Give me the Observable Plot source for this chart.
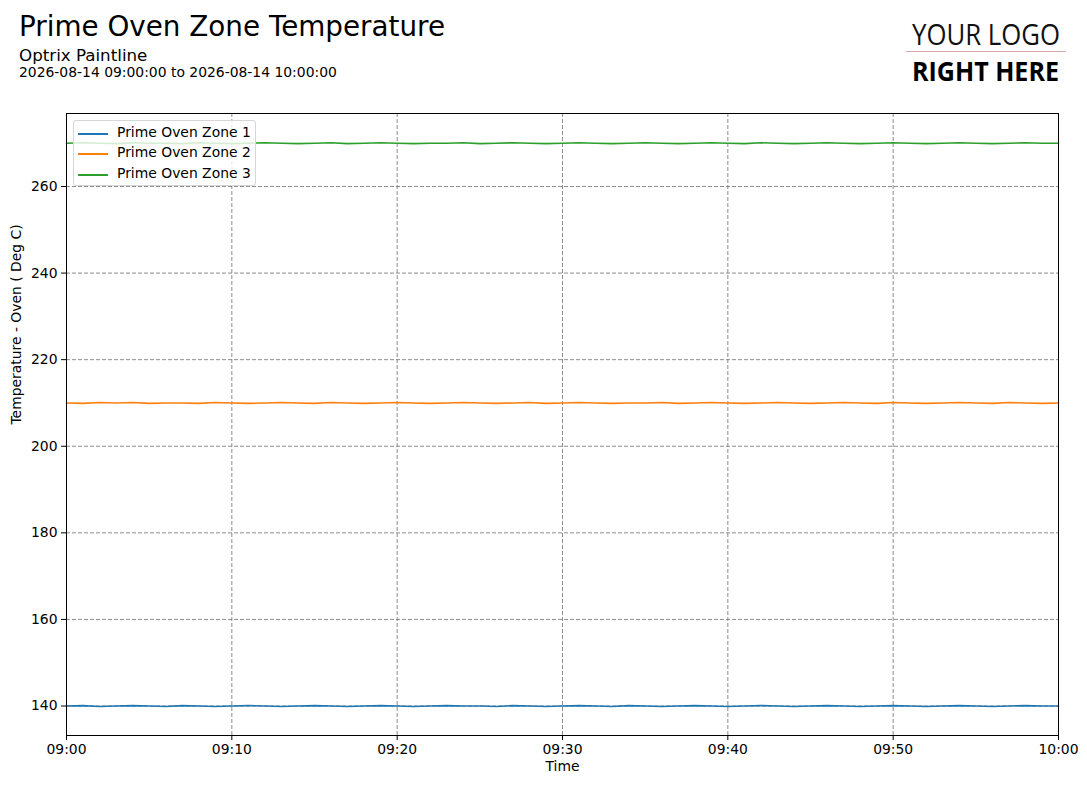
<!DOCTYPE html>
<html><head><meta charset="utf-8">
<script src="https://cdn.jsdelivr.net/npm/d3@7"></script>
<script src="https://cdn.jsdelivr.net/npm/@observablehq/plot@0.6"></script>
<style>
body{margin:0;background:#fff;font-family:"DejaVu Sans",sans-serif;}
#wrap{position:relative;width:1087px;height:788px;overflow:hidden;background:#fff}
.t{position:absolute;left:19px;white-space:nowrap;line-height:1;color:#000}
#chart{position:absolute;left:0;top:0}
#legend{position:absolute;left:73px;top:120px;width:183px;height:66px;border:1px solid #d6d6d6;border-radius:3px;background:rgba(255,255,255,0.8);box-sizing:border-box}
.row{position:absolute;left:0;height:20px;width:100%}
.row svg{position:absolute;left:3px;top:0}
.row span{position:absolute;left:43px;top:2px;font-size:13.9px;line-height:1;white-space:nowrap;color:#000}
#logo{position:absolute;left:880px;top:0}
</style></head><body>
<div id="wrap">
  <div id="chart"></div>
  <div class="t" id="title" style="top:12.5px;font-size:27.8px">Prime Oven Zone Temperature</div>
  <div class="t" id="sub" style="top:47px;font-size:16.7px">Optrix Paintline</div>
  <div class="t" id="range" style="top:65.5px;font-size:13.9px">2026-08-14 09:00:00 to 2026-08-14 10:00:00</div>
  <div id="legend"></div>
  <svg id="logo" width="207" height="100">
    <text x="32" y="45" font-family="Open Sans" font-size="28.5" textLength="148" lengthAdjust="spacingAndGlyphs" fill="#111">YOUR LOGO</text>
    <line x1="25.7" x2="185.7" y1="51.5" y2="51.5" stroke="#d9a6a6" stroke-width="1"/>
    <text x="32" y="80.5" font-family="Open Sans" font-weight="700" font-size="26.5" textLength="147" lengthAdjust="spacingAndGlyphs" fill="#000">RIGHT HERE</text>
  </svg>
</div>
<script>
const seriesNames = ["Prime Oven Zone 1", "Prime Oven Zone 2", "Prime Oven Zone 3"];
const seriesColors = ["#1f77b4", "#ff7f0e", "#2ca02c"];
const startTime = "2026-08-14T09:00:00Z";
const endTime = "2026-08-14T10:00:00Z";
const xTickLabels = ["09:00", "09:10", "09:20", "09:30", "09:40", "09:50", "10:00"];
const yTickValues = [140, 160, 180, 200, 220, 240, 260];
const xLabel = "Time";
const yLabel = "Temperature - Oven ( Deg C)";

// one reading per minute, 09:00 .. 10:00
const zone1 = [
 140.0,140.1,139.9,140.0,140.1,140.0,139.9,140.1,140.0,139.9,
 140.0,140.1,140.0,139.9,140.0,140.1,140.0,139.9,140.0,140.1,
 140.0,139.9,140.0,140.1,140.0,140.0,139.9,140.1,140.0,139.9,
 140.0,140.1,140.0,139.9,140.1,140.0,139.9,140.0,140.1,140.0,
 139.9,140.0,140.1,140.0,139.9,140.0,140.1,140.0,139.9,140.0,
 140.1,140.0,139.9,140.0,140.1,140.0,139.9,140.0,140.1,140.0,140.0];
const zone2 = [
 210.0,209.9,210.1,210.0,210.1,209.9,210.0,210.0,209.9,210.1,
 210.0,209.9,210.0,210.1,210.0,209.9,210.1,210.0,209.9,210.0,
 210.1,210.0,209.9,210.0,210.1,210.0,209.9,210.0,210.1,209.9,
 210.0,210.1,210.0,209.9,210.0,210.0,210.1,209.9,210.0,210.1,
 210.0,209.9,210.0,210.1,210.0,209.9,210.0,210.1,210.0,209.9,
 210.1,210.0,209.9,210.0,210.1,210.0,209.9,210.1,210.0,209.9,210.0];
const zone3 = [
 270.0,270.1,270.0,269.9,270.1,270.0,270.0,269.9,270.1,270.0,
 269.9,270.0,270.1,270.0,269.9,270.0,270.1,269.9,270.0,270.1,
 270.0,269.9,270.0,270.0,270.1,269.9,270.0,270.1,270.0,269.9,
 270.0,270.1,270.0,269.9,270.0,270.1,270.0,269.9,270.0,270.1,
 270.0,269.9,270.1,270.0,269.9,270.0,270.1,270.0,269.9,270.0,
 270.1,270.0,269.9,270.0,270.1,270.0,269.9,270.0,270.1,270.0,270.0];

const t0 = new Date(startTime), t1 = new Date(endTime);
const rows = [];
[zone1, zone2, zone3].forEach((vals, s) => {
  vals.forEach((v, i) => rows.push({series: seriesNames[s], time: d3.utcMinute.offset(t0, i), value: v}));
});
const xTicks = xTickLabels.map(l => new Date(`2026-08-14T${l}:00Z`));
const gridStyle = {stroke: "#808080", strokeOpacity: 1, strokeWidth: 0.9, strokeDasharray: "4,2"};

const chart = Plot.plot({
  width: 1087, height: 788,
  marginLeft: 66, marginRight: 29, marginTop: 113, marginBottom: 53,
  style: {fontFamily: "DejaVu Sans", fontSize: "13.9px", background: "transparent", color: "#000", overflow: "visible"},
  x: {type: "utc", domain: [t0, t1]},
  y: {domain: [133.19, 276.86]},
  color: {domain: seriesNames, range: seriesColors},
  marks: [
    Plot.gridX(xTicks, gridStyle),
    Plot.gridY(yTickValues, gridStyle),
    Plot.line(rows, {x: "time", y: "value", z: "series", stroke: "series", strokeWidth: 1.6}),
    Plot.frame({stroke: "#000", strokeWidth: 1}),
    Plot.axisX(xTicks, {tickFormat: d3.utcFormat("%H:%M"), tickSize: 5, tickPadding: 4, label: null}),
    Plot.axisY(yTickValues, {tickFormat: d => String(d), tickSize: 5, tickPadding: 4, label: null}),
    Plot.text([xLabel], {frameAnchor: "bottom", dy: 35, text: d => d}),
    Plot.text([yLabel], {frameAnchor: "left", rotate: -90, dx: -50, text: d => d})
  ]
});
document.getElementById("chart").appendChild(chart);

const legend = document.getElementById("legend");
seriesNames.forEach((name, i) => {
  const row = document.createElement("div");
  row.className = "row";
  row.style.top = (2.5 + i * 20.8) + "px";
  row.innerHTML = `<svg width="34" height="20"><line x1="1" x2="31" y1="10" y2="10" stroke="${seriesColors[i]}" stroke-width="2"/></svg><span>${name}</span>`;
  legend.appendChild(row);
});
</script>
</body></html>
